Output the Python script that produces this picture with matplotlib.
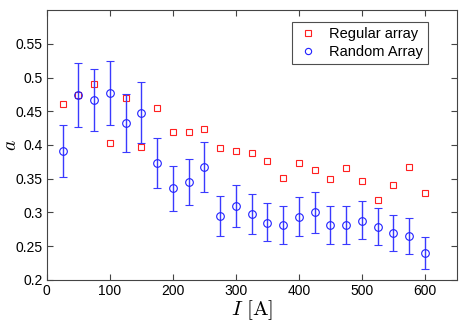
import matplotlib.pyplot as plt
from matplotlib.lines import Line2D
import numpy as np

plt.rcParams["font.family"] = ["Liberation Sans", "DejaVu Sans"]
plt.rcParams["mathtext.fontset"] = "cm"

# Data
current = [25, 50, 75, 100, 125, 150, 175, 200, 225, 250, 275, 300,
           325, 350, 375, 400, 425, 450, 475, 500, 525, 550, 575, 600]

regular = [0.461, 0.474, 0.490, 0.403, 0.470, 0.397, 0.455, 0.419,
           0.419, 0.423, 0.395, 0.391, 0.388, 0.377, 0.351, 0.373,
           0.363, 0.349, 0.366, 0.346, 0.318, 0.341, 0.368, 0.329]

random_mean = [0.391, 0.474, 0.466, 0.477, 0.433, 0.448, 0.373, 0.336,
               0.345, 0.367, 0.295, 0.309, 0.297, 0.285, 0.282, 0.294,
               0.300, 0.281, 0.282, 0.288, 0.279, 0.269, 0.265, 0.240]
random_lo = [0.352, 0.427, 0.420, 0.429, 0.389, 0.403, 0.336, 0.302,
             0.311, 0.330, 0.265, 0.278, 0.268, 0.257, 0.254, 0.265,
             0.270, 0.253, 0.254, 0.260, 0.252, 0.243, 0.239, 0.216]
random_hi = [0.430, 0.522, 0.513, 0.524, 0.476, 0.493, 0.410, 0.369,
             0.379, 0.404, 0.324, 0.340, 0.327, 0.314, 0.310, 0.323,
             0.330, 0.309, 0.310, 0.317, 0.306, 0.296, 0.292, 0.264]

x = np.array(current)
mean = np.array(random_mean)
yerr = [mean - np.array(random_lo), np.array(random_hi) - mean]

red = "#ff2020"
blue = "#2020ff"

fig = plt.figure(figsize=(4.63, 3.24), dpi=100)
ax = fig.add_axes([0.101, 0.136, 0.885, 0.833])

ax.plot(x, regular, linestyle="none", marker="s", markersize=4.5,
        markerfacecolor="none", markeredgecolor=red, markeredgewidth=0.8)
ax.errorbar(x, mean, yerr=yerr, fmt="o", markersize=5.5,
            markerfacecolor="none", markeredgecolor=blue,
            markeredgewidth=0.8, ecolor="#3a3aff", elinewidth=1.0,
            capsize=3, capthick=1.0)

ax.set_xlim(0, 650)
ax.set_ylim(0.2, 0.6)
ax.set_xticks(range(0, 601, 100))
ax.set_yticks([0.2, 0.25, 0.3, 0.35, 0.4, 0.45, 0.5, 0.55])
ax.set_yticklabels(["0.2", "0.25", "0.3", "0.35", "0.4", "0.45", "0.5", "0.55"])
ax.tick_params(direction="in", labelsize=10, length=4, top=True, right=True,
               color="#444444", pad=3)
for s in ax.spines.values():
    s.set_color("#444444")

ax.set_xlabel(r"$I\ [\mathrm{A}]$", fontsize=15, labelpad=0)
# y label placed by hand so it sits near the left edge like the original
ax.text(-0.085, 0.5, r"$a$", fontsize=14, rotation=90, ha="center",
        va="center", transform=ax.transAxes)

handles = [
    Line2D([], [], linestyle="none", marker="s", markersize=4,
           markerfacecolor="none", markeredgecolor=red, markeredgewidth=0.8),
    Line2D([], [], linestyle="none", marker="o", markersize=4.5,
           markerfacecolor="none", markeredgecolor=blue, markeredgewidth=0.8),
]
leg = ax.legend(handles, ["Regular array", "Random Array"], loc="upper right",
                bbox_to_anchor=(0.93, 0.955), fontsize=10.5,
                frameon=True, fancybox=False, edgecolor="#222222",
                handlelength=1.6, borderpad=0.35, labelspacing=0.25,
                handletextpad=0.6, borderaxespad=0)
leg.get_frame().set_linewidth(0.8)

plt.savefig("out.png", dpi=100)
plt.close()
